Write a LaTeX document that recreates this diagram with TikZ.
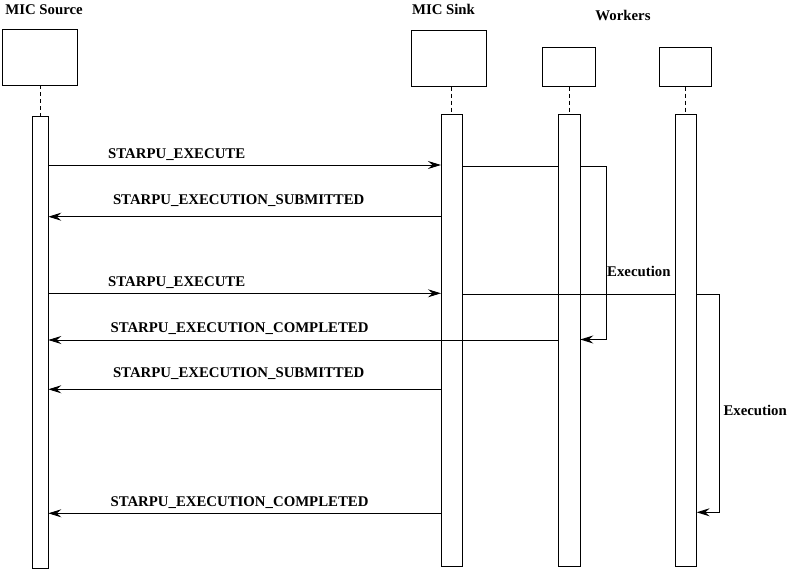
\documentclass[tikz,border=0pt]{standalone}
\usepackage{fontspec}
\setmainfont{Liberation Serif}
\usetikzlibrary{arrows.meta}
\begin{document}
\begin{tikzpicture}[x=1pt,y=-1pt,
  every node/.style={font=\fontsize{14.8}{16}\selectfont\bfseries},
  headbox/.style={draw, line width=0.9pt, inner sep=0pt, outer sep=0pt, fill=white},
  actbar/.style={draw, line width=0.9pt, inner sep=0pt, outer sep=0pt, fill=white},
  lifeline/.style={line width=0.9pt, dash pattern=on 4pt off 3pt},
  msg/.style={line width=0.9pt, line join=miter, -{Stealth[length=13pt,width=8pt,inset=4.5pt]}},
  wire/.style={line width=0.9pt},
  lbl/.style={anchor=base, inner sep=0pt}
]
\useasboundingbox (0,0) rectangle (788,570);

% participant titles
\node[lbl] (tsrc)  at (44,14.5) {MIC Source};
\node[lbl] (tsink) at (443.5,14.5) {MIC Sink};
\node[lbl] (twork) at (623,20) {Workers};

% participant heads
\node[headbox, minimum width=75pt,   minimum height=56.5pt] (srcbox)  at (39.5,57.2) {};
\node[headbox, minimum width=75.5pt, minimum height=56.7pt] (sinkbox) at (448.7,58.3) {};
\node[headbox, minimum width=53.3pt, minimum height=39.4pt] (w1box)   at (568.7,67) {};
\node[headbox, minimum width=52.7pt, minimum height=39.4pt] (w2box)   at (685.3,67) {};

% activation bars
\node[actbar, minimum width=16pt,   minimum height=452pt]   (srcbar)  at (40.3,342) {};
\node[actbar, minimum width=21.7pt, minimum height=452.5pt] (sinkbar) at (451.8,340.3) {};
\node[actbar, minimum width=22pt,   minimum height=452pt]   (w1bar)   at (569.3,340) {};
\node[actbar, minimum width=21.7pt, minimum height=452pt]   (w2bar)   at (685.8,340) {};

% lifelines
\draw[lifeline] (srcbar.north |- srcbox.south) -- (srcbar.north);
\draw[lifeline] (sinkbar.north |- sinkbox.south) -- (sinkbar.north);
\draw[lifeline] (w1bar.north |- w1box.south) -- (w1bar.north);
\draw[lifeline] (w2bar.north |- w2box.south) -- (w2bar.north);

% message rows
\coordinate (m1) at (0,165);
\coordinate (m2) at (0,216.7);
\coordinate (m3) at (0,293.3);
\coordinate (m4) at (0,340);
\coordinate (m5) at (0,389.3);
\coordinate (m6) at (0,513.3);

\draw[msg] (srcbar.east |- m1) -- (sinkbar.west |- m1);
\node[lbl] (l1) at (176.7,158) {STARPU\_EXECUTE};

\draw[msg] (sinkbar.west |- m2) -- (srcbar.east |- m2);
\node[lbl] (l2) at (238.7,204) {STARPU\_EXECUTION\_SUBMITTED};

\draw[msg] (srcbar.east |- m3) -- (sinkbar.west |- m3);
\node[lbl] (l3) at (176.7,286.5) {STARPU\_EXECUTE};

\draw[msg] (w1bar.west |- m4) -- (srcbar.east |- m4);
\node[lbl] (l4) at (239.5,332.3) {STARPU\_EXECUTION\_COMPLETED};

\draw[msg] (sinkbar.west |- m5) -- (srcbar.east |- m5);
\node[lbl] (l5) at (238.7,377.5) {STARPU\_EXECUTION\_SUBMITTED};

\draw[msg] (sinkbar.west |- m6) -- (srcbar.east |- m6);
\node[lbl] (l6) at (239.5,506) {STARPU\_EXECUTION\_COMPLETED};

% first execution on worker 1
\coordinate (e1) at (0,166.7);
\coordinate (c1) at (606,0);
\coordinate (r1) at (0,339.5);
\draw[wire] (sinkbar.east |- e1) -- (w1bar.west |- e1);
\draw[msg] (w1bar.east |- e1) -- (c1 |- e1) -- (c1 |- r1) -- (w1bar.east |- r1);
\node[lbl, anchor=base west] (x1) at (607,276) {Execution};

% second execution on worker 2
\coordinate (e2) at (0,294.3);
\coordinate (c2) at (719,0);
\coordinate (r2) at (0,512.3);
\draw[wire] (sinkbar.east |- e2) -- (w2bar.west |- e2);
\draw[msg] (w2bar.east |- e2) -- (c2 |- e2) -- (c2 |- r2) -- (w2bar.east |- r2);
\node[lbl, anchor=base west] (x2) at (723.3,415.3) {Execution};
\end{tikzpicture}
\end{document}
